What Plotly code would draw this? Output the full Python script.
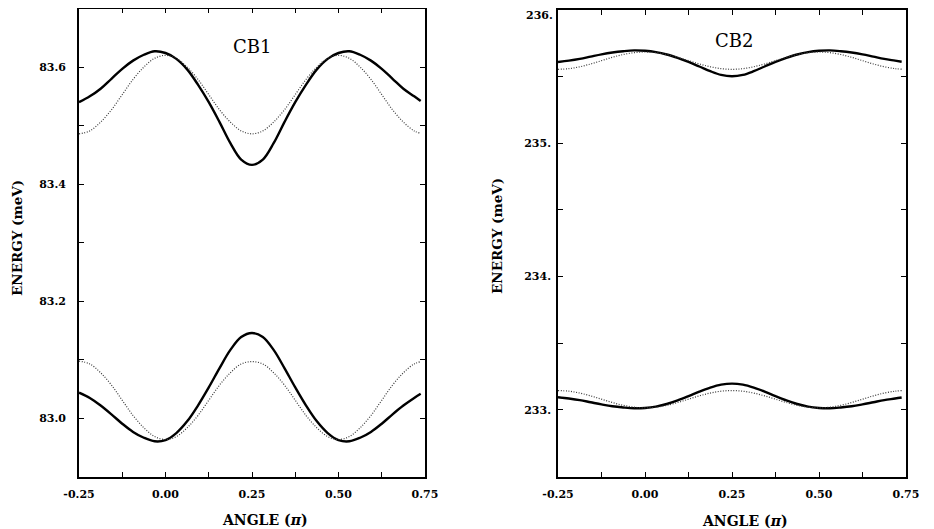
import plotly.graph_objects as go

# ---------------- data ----------------
angle = [-0.25, -0.21875, -0.1875, -0.15625, -0.125, -0.09375, -0.0625, -0.03125,
         0.0, 0.03125, 0.0625, 0.09375, 0.125, 0.15625, 0.1875, 0.21875,
         0.25, 0.28125, 0.3125, 0.34375, 0.375, 0.40625, 0.4375, 0.46875,
         0.5, 0.53125, 0.5625, 0.59375, 0.625, 0.65625, 0.6875, 0.71875, 0.7375]

cb1_upper_solid = [83.540, 83.550, 83.563, 83.580, 83.597, 83.611, 83.621, 83.627,
                   83.624, 83.614, 83.596, 83.570, 83.540, 83.506, 83.470, 83.442,
                   83.433, 83.442, 83.470, 83.506, 83.540, 83.570, 83.596, 83.614,
                   83.624, 83.627, 83.621, 83.611, 83.597, 83.580, 83.563, 83.550, 83.542]
cb1_upper_dot = [83.486, 83.491, 83.506, 83.527, 83.553, 83.579, 83.600, 83.615,
                 83.620, 83.615, 83.600, 83.579, 83.553, 83.527, 83.506, 83.491,
                 83.486, 83.491, 83.506, 83.527, 83.553, 83.579, 83.600, 83.615,
                 83.620, 83.615, 83.600, 83.579, 83.553, 83.527, 83.506, 83.491, 83.487]
cb1_lower_solid = [83.044, 83.035, 83.022, 83.007, 82.991, 82.977, 82.967, 82.961,
                   82.963, 82.975, 82.995, 83.022, 83.053, 83.086, 83.117, 83.139,
                   83.146, 83.139, 83.117, 83.086, 83.053, 83.022, 82.995, 82.975,
                   82.963, 82.961, 82.967, 82.977, 82.991, 83.007, 83.022, 83.035, 83.042]
cb1_lower_dot = [83.098, 83.093, 83.078, 83.057, 83.031, 83.005, 82.984, 82.969,
                 82.964, 82.969, 82.984, 83.005, 83.031, 83.057, 83.078, 83.093,
                 83.097, 83.093, 83.078, 83.057, 83.031, 83.005, 82.984, 82.969,
                 82.964, 82.969, 82.984, 83.005, 83.031, 83.057, 83.078, 83.093, 83.097]

cb2_upper_solid = [235.610, 235.620, 235.633, 235.650, 235.667, 235.681, 235.691, 235.697,
                   235.694, 235.684, 235.666, 235.640, 235.610, 235.576, 235.541, 235.513,
                   235.503, 235.513, 235.541, 235.576, 235.610, 235.640, 235.666, 235.684,
                   235.694, 235.697, 235.691, 235.681, 235.667, 235.650, 235.633, 235.620, 235.612]
cb2_upper_dot = [235.555, 235.560, 235.574, 235.595, 235.620, 235.645, 235.666, 235.680,
                 235.685, 235.680, 235.666, 235.645, 235.620, 235.595, 235.574, 235.560,
                 235.555, 235.560, 235.574, 235.595, 235.620, 235.645, 235.666, 235.680,
                 235.685, 235.680, 235.666, 235.645, 235.620, 235.595, 235.574, 235.560, 235.556]
cb2_lower_solid = [233.095, 233.085, 233.073, 233.057, 233.041, 233.027, 233.018, 233.012,
                   233.014, 233.024, 233.044, 233.071, 233.103, 233.137, 233.167, 233.189,
                   233.197, 233.189, 233.167, 233.137, 233.103, 233.071, 233.044, 233.024,
                   233.014, 233.012, 233.018, 233.027, 233.041, 233.057, 233.073, 233.085, 233.093]
cb2_lower_dot = [233.145, 233.140, 233.126, 233.105, 233.080, 233.055, 233.034, 233.020,
                 233.015, 233.020, 233.034, 233.055, 233.080, 233.105, 233.126, 233.140,
                 233.145, 233.140, 233.126, 233.105, 233.080, 233.055, 233.034, 233.020,
                 233.015, 233.020, 233.034, 233.055, 233.080, 233.105, 233.126, 233.140, 233.145]

x_tickvals = [-0.25, -0.125, 0.0, 0.125, 0.25, 0.375, 0.5, 0.625, 0.75]
x_ticktext = ["-0.25", "", "0.00", "", "0.25", "", "0.50", "", "0.75"]
y1_tickvals = [82.9, 83.0, 83.1, 83.2, 83.3, 83.4, 83.5, 83.6, 83.7]
y1_ticktext = ["", "83.0", "", "83.2", "", "83.4", "", "83.6", ""]
y2_tickvals = [232.5, 233.0, 233.5, 234.0, 234.5, 235.0, 235.5, 235.999]
y2_ticktext = ["", "233.", "", "234.", "", "235.", "", ""]
y2_top_label = "236."        # drawn separately so it is not clipped at the page top

panel_titles = ["CB1", "CB2"]
x_title = "ANGLE (<i>π</i>)"
y_title = "ENERGY (meV)"

# ---------------- figure ----------------
OFF = 8                      # page body margin offset
W, H = 934 - OFF, 529 - OFF  # figure size
ML, MR, MT, MB = 79 - OFF, 934 - 906, 8 - OFF, 52
PW, PH = W - ML - MR, H - MT - MB
SERIF = "DejaVu Serif"
fig = go.Figure()

def add_pair(solid, dot, xa, ya):
    fig.add_trace(go.Scatter(x=angle, y=solid, mode="lines", xaxis=xa, yaxis=ya,
                             line=dict(color="black", width=2.4, shape="spline"),
                             showlegend=False, hoverinfo="skip"))
    fig.add_trace(go.Scatter(x=angle, y=dot, mode="lines", xaxis=xa, yaxis=ya,
                             line=dict(color="#3a3a3a", width=1.2, dash="1px,1.6px", shape="spline"),
                             showlegend=False, hoverinfo="skip"))

add_pair(cb1_upper_solid, cb1_upper_dot, "x", "y")
add_pair(cb1_lower_solid, cb1_lower_dot, "x", "y")
add_pair(cb2_upper_solid, cb2_upper_dot, "x2", "y2")
add_pair(cb2_lower_solid, cb2_lower_dot, "x2", "y2")

def fx(px):   # page x -> figure x
    return px - OFF

def fy(py):   # page y -> figure y
    return py - OFF

def dx(a, b):
    return [(fx(a) - ML) / PW, (fx(b) - ML) / PW]

def dy(top, bottom):
    return [(H - MB - fy(bottom)) / PH, (H - MB - fy(top)) / PH]

tickfont = dict(family=SERIF, size=11, color="black", weight="bold")
common_x = dict(range=[-0.25, 0.75], tickvals=x_tickvals, ticktext=x_ticktext,
                ticks="inside", ticklen=5, tickwidth=1, tickcolor="black",
                showline=True, linecolor="black", linewidth=1.6, mirror="ticks",
                showgrid=False, zeroline=False, tickfont=tickfont, ticklabelstandoff=6,
                automargin=False, ticklabeloverflow="allow")
common_y = dict(ticks="inside", ticklen=5, tickwidth=1, tickcolor="black",
                showline=True, linecolor="black", linewidth=1.6, mirror="ticks",
                showgrid=False, zeroline=False, tickfont=tickfont, automargin=False,
                ticklabeloverflow="allow")

fig.update_layout(
    width=W, height=H, autosize=False,
    margin=dict(l=ML, r=MR, t=MT, b=MB, pad=0),
    paper_bgcolor="white", plot_bgcolor="white",
    xaxis=dict(domain=dx(79, 425), anchor="y", **common_x),
    yaxis=dict(domain=dy(8.5, 477), anchor="x", range=[82.9, 83.7],
               tickvals=y1_tickvals, ticktext=y1_ticktext, ticklabelstandoff=9, **common_y),
    xaxis2=dict(domain=dx(558, 906), anchor="y2", **common_x),
    yaxis2=dict(domain=dy(10, 476.5), anchor="x2", range=[232.5, 236.0],
                tickvals=y2_tickvals, ticktext=y2_ticktext, ticklabelstandoff=3, **common_y),
)

def ann(text, x, y, size, bold=True, angle=0, xanchor="center"):
    fig.add_annotation(text=text, xref="paper", yref="paper",
                       x=(fx(x) - ML) / PW, y=(H - MB - fy(y)) / PH,
                       xanchor=xanchor, yanchor="middle", showarrow=False, textangle=angle,
                       font=dict(family=SERIF, size=size, color="black",
                                 weight="bold" if bold else "normal"))

ann(panel_titles[0], 252, 47, 18, bold=False)
ann(panel_titles[1], 734, 40, 18, bold=False)
ann(x_title, 265, 520, 14)
ann(x_title, 745, 521, 14)
ann(y_title, 17, 238, 13.5, angle=-90)
ann(y_title, 497, 236, 13.5, angle=-90)
ann(y2_top_label, 555, 16, 11, xanchor="right")

fig.write_html("out.html")
